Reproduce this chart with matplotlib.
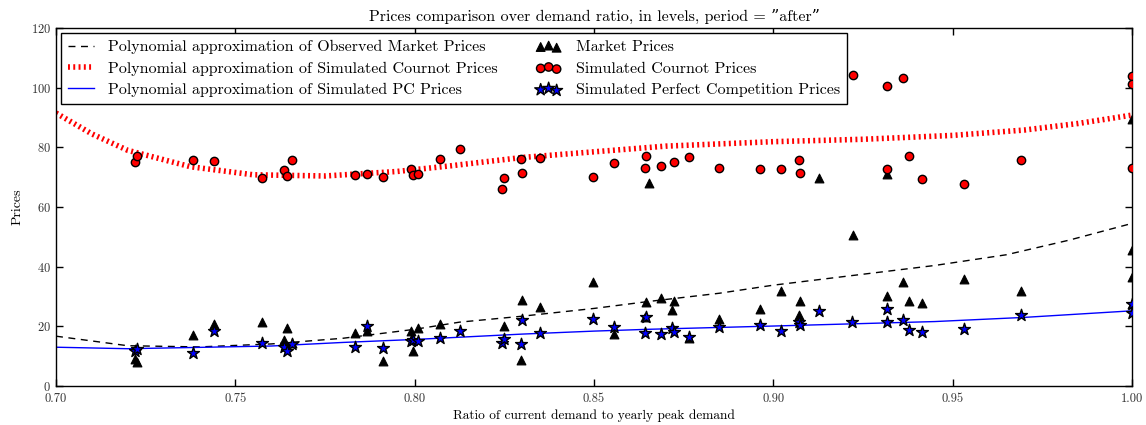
#!/usr/bin/env python3
"""Prices comparison over demand ratio (period = "after")."""

import matplotlib

matplotlib.use("Agg")
import matplotlib.pyplot as plt
from matplotlib.ticker import FormatStrFormatter, MultipleLocator

# observed market prices (triangles)
market_x = [0.7220, 0.7226, 0.7381, 0.7440, 0.7574, 0.7636, 0.7643, 0.7658, 0.7833, 0.7868,
            0.7913, 0.7990, 0.7996, 0.8010, 0.8070, 0.8249, 0.8296, 0.8299, 0.8350, 0.8498,
            0.8555, 0.8643, 0.8646, 0.8654, 0.8687, 0.8718, 0.8723, 0.8764, 0.8848, 0.8964,
            0.9022, 0.9071, 0.9075, 0.9126, 0.9221, 0.9316, 0.9317, 0.9362, 0.9379, 0.9415,
            0.9531, 0.9691, 1.0, 1.0, 1.0, 1.0]
market_y = [8.9, 7.9, 17.1, 20.8, 21.5, 15.4, 19.3, 14.5, 17.7, 18.5,
            8.5, 18.4, 11.7, 19.3, 20.8, 20.1, 8.7, 28.8, 26.6, 34.8,
            17.4, 23.0, 28.3, 67.9, 29.6, 25.4, 28.6, 16.0, 22.6, 25.8,
            31.9, 23.8, 28.5, 69.7, 50.6, 71.1, 30.2, 35.0, 28.5, 27.7,
            35.8, 32.0, 89.5, 45.6, 36.4, 27.5]

# simulated cournot prices (circles)
cournot_x = [0.7220, 0.7225, 0.7381, 0.7440, 0.7574, 0.7636, 0.7643, 0.7658, 0.7833, 0.7868,
             0.7913, 0.7990, 0.7996, 0.8010, 0.8070, 0.8125, 0.8244, 0.8249, 0.8296, 0.8300,
             0.8350, 0.8498, 0.8555, 0.8646, 0.8643, 0.8687, 0.8723, 0.8764, 0.8848, 0.8964,
             0.9022, 0.9071, 0.9075, 0.9221, 0.9316, 0.9317, 0.9362, 0.9379, 0.9415, 0.9531,
             0.9691, 1.0, 1.0, 1.0]
cournot_y = [75.2, 77.2, 75.9, 75.5, 69.8, 72.4, 70.4, 75.8, 70.8, 71.1,
             70.2, 72.7, 70.7, 71.0, 76.1, 79.5, 65.9, 69.7, 76.1, 71.5,
             76.3, 70.1, 74.9, 77.2, 73.2, 73.8, 75.2, 76.9, 73.0, 72.6,
             72.8, 75.6, 71.5, 104.1, 100.6, 72.8, 103.4, 77.1, 69.5, 67.6,
             75.9, 103.9, 101.1, 73.2]

# simulated perfect competition prices (stars)
pc_x = [0.7220, 0.7226, 0.7381, 0.7440, 0.7574, 0.7636, 0.7643, 0.7658, 0.7833, 0.7868,
        0.7913, 0.7990, 0.7996, 0.8010, 0.8070, 0.8125, 0.8244, 0.8249, 0.8296, 0.8299,
        0.8350, 0.8498, 0.8555, 0.8643, 0.8646, 0.8687, 0.8718, 0.8723, 0.8764, 0.8848,
        0.8964, 0.9022, 0.9071, 0.9075, 0.9126, 0.9219, 0.9316, 0.9317, 0.9362, 0.9379,
        0.9415, 0.9531, 0.9691, 1.0, 1.0]
pc_y = [11.7, 12.3, 11.2, 18.4, 14.3, 13.0, 11.8, 14.1, 13.0, 20.1,
        12.8, 15.2, 15.5, 15.2, 16.0, 18.4, 14.5, 15.8, 14.1, 22.1,
        17.9, 22.6, 19.9, 17.7, 23.2, 17.3, 19.3, 18.2, 16.3, 19.7,
        20.3, 18.5, 21.5, 20.3, 25.1, 21.5, 21.4, 25.7, 22.1, 18.8,
        18.1, 19.2, 23.8, 27.5, 24.6]

# polynomial approximations
fit_market_x = [0.70, 0.72, 0.74, 0.76, 0.78, 0.80, 0.8125, 0.83, 0.85, 0.865, 0.885, 0.90,
                0.93, 0.945, 0.965, 0.9825, 1.0]
fit_market_y = [16.7, 13.5, 13.1, 14.1, 16.0, 19.0, 21.4, 23.4, 26.0, 28.3, 31.1, 33.8,
                38.2, 40.4, 44.0, 48.9, 54.5]
fit_cournot_x = [0.70, 0.71, 0.72, 0.7375, 0.755, 0.775, 0.795, 0.81, 0.83, 0.85, 0.87,
                 0.90, 0.925, 0.95, 0.97, 0.985, 1.0]
fit_cournot_y = [91.5, 84.5, 79.0, 73.5, 70.8, 70.4, 71.9, 73.8, 76.6, 78.5, 80.4,
                 81.9, 82.7, 84.0, 85.8, 88.0, 90.8]
fit_pc_x = [0.70, 0.72, 0.76, 0.78, 0.80, 0.83, 0.85, 0.865, 0.90, 0.945, 0.97, 1.0]
fit_pc_y = [13.0, 12.5, 13.4, 14.6, 15.6, 17.4, 18.4, 19.0, 20.1, 21.6, 23.0, 25.2]

plt.rcParams["font.family"] = ["cmr10", "DejaVu Serif"]
plt.rcParams["axes.formatter.use_mathtext"] = True

fig = plt.figure(figsize=(11.46, 4.25), dpi=100, facecolor="white")
ax = fig.add_axes([56 / 1146, 1 - 386 / 425, (1132 - 56) / 1146, (386 - 28) / 425])

l_market, = ax.plot(fit_market_x, fit_market_y, color="black", lw=1.0,
                    linestyle=(0, (5, 4)),
                    label="Polynomial approximation of Observed Market Prices")
l_cournot, = ax.plot(fit_cournot_x, fit_cournot_y, color="red", lw=4.0,
                     linestyle=(0, (0.35, 0.6)), dash_capstyle="butt",
                     label="Polynomial approximation of Simulated Cournot Prices")
l_pc, = ax.plot(fit_pc_x, fit_pc_y, color="blue", lw=1.0,
                label="Polynomial approximation of Simulated PC Prices")

s_market = ax.scatter(market_x, market_y, marker="^", s=40, c="black",
                      edgecolors="black", linewidths=0.8, zorder=3, label="Market Prices")
s_cournot = ax.scatter(cournot_x, cournot_y, marker="o", s=36, c="red",
                       edgecolors="black", linewidths=1.0, zorder=4,
                       label="Simulated Cournot Prices")
s_pc = ax.scatter(pc_x, pc_y, marker="*", s=80, c="blue",
                  edgecolors="black", linewidths=1.0, zorder=5,
                  label="Simulated Perfect Competition Prices")

ax.set_xlim(0.70, 1.00)
ax.set_ylim(0, 120)
ax.xaxis.set_major_locator(MultipleLocator(0.05))
ax.xaxis.set_major_formatter(FormatStrFormatter("%.2f"))
ax.yaxis.set_major_locator(MultipleLocator(20))
ax.tick_params(direction="in", top=True, right=True, length=5, width=1, labelsize=9,
               labelcolor="#333333")
ax.tick_params(axis="x", pad=5)
for spine in ax.spines.values():
    spine.set_linewidth(1.0)

ax.set_title('Prices comparison over demand ratio, in levels, period = \u201dafter\u201d',
             fontsize=11.5, pad=5)
ax.set_xlabel("Ratio of current demand to yearly peak demand", fontsize=9.6, labelpad=3)
ax.set_ylabel("Prices", fontsize=10, labelpad=5)

leg = ax.legend(handles=[l_market, l_cournot, l_pc, s_market, s_cournot, s_pc],
                loc="upper left", ncol=2, scatterpoints=3, fontsize=11.5,
                fancybox=False, framealpha=1.0, edgecolor="black",
                borderaxespad=0.3, borderpad=0.45, handlelength=1.6,
                handletextpad=0.9, columnspacing=2.4, labelspacing=0.45)
leg.get_frame().set_linewidth(1.0)

fig.savefig("out.png", dpi=100, facecolor="white")
